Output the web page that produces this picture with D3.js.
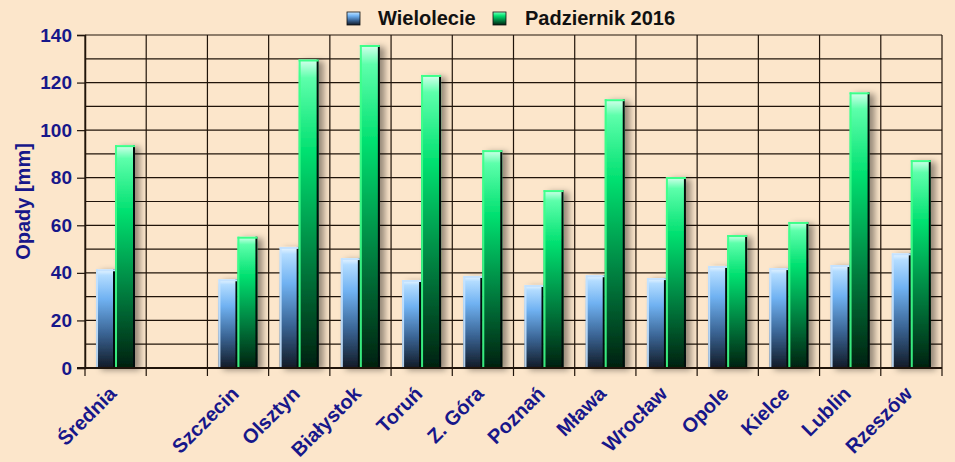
<!DOCTYPE html>
<html><head><meta charset="utf-8">
<script src="https://cdn.jsdelivr.net/npm/d3@7"></script>
<style>body{margin:0;background:#fce6cb;}svg{display:block;font-family:"Liberation Sans",Arial,sans-serif;}</style>
</head><body>
<svg id="c" width="955" height="462"></svg>
<script>
const categories = ["Średnia","","Szczecin","Olsztyn","Białystok","Toruń","Z. Góra","Poznań","Mława","Wrocław","Opole","Kielce","Lublin","Rzeszów"];
const wielolecie = [41.5,null,37.3,50.9,46.2,37.0,38.7,34.9,39.0,37.8,42.9,42.0,43.3,48.2];
const pazdziernik = [93.7,null,55.2,129.7,135.8,123.2,91.6,74.8,113.0,80.3,55.9,61.4,115.9,87.4];
const seriesNames = ["Wielolecie","Padziernik 2016"];
const yTicks = [0,20,40,60,80,100,120,140];

const svg = d3.select("#c");
const W=955,H=462, m={l:85,r:13,t:35,b:94};
const x = d3.scaleBand().domain(d3.range(categories.length)).range([m.l, W-m.r]);
const y = d3.scaleLinear().domain([0,140]).range([H-m.b, m.t]);
const navy="#17178a";

svg.append("rect").attr("width",W).attr("height",H).attr("fill","#fce6cb");
const defs = svg.append("defs");
function grad(id, stops){
  const g=defs.append("linearGradient").attr("id",id).attr("x1",0).attr("y1",0).attr("x2",0).attr("y2",1);
  stops.forEach(s=>g.append("stop").attr("offset",s[0]).attr("stop-color",s[1]));
}
grad("gb",[[0,"#eef8ff"],[0.06,"#b3dcff"],[0.3,"#70b2f2"],[0.65,"#3a6494"],[1,"#121a26"]]);
grad("gg",[[0,"#d8ffee"],[0.06,"#5dffab"],[0.3,"#00e070"],[0.65,"#008040"],[1,"#00200f"]]);
const f=defs.append("filter").attr("id","sh").attr("x","-20%").attr("y","-10%").attr("width","160%").attr("height","130%");
f.append("feDropShadow").attr("dx",5).attr("dy",2).attr("stdDeviation",3).attr("flood-color","#000").attr("flood-opacity",0.4);

// grid
const grid=svg.append("g");
d3.range(0,141,10).forEach(v=>{
  grid.append("line").attr("x1",m.l).attr("x2",W-m.r).attr("y1",y(v)).attr("y2",y(v))
    .attr("stroke","#20140a").attr("stroke-width",1.2);
});
d3.range(categories.length+1).forEach(i=>{
  const xx = i<categories.length ? x(i) : x.range()[1];
  grid.append("line").attr("x1",xx).attr("x2",xx).attr("y1",y(140)).attr("y2",y(0)+8)
    .attr("stroke","#20140a").attr("stroke-width",1.2);
});

// y axis
const ya = svg.append("g").attr("transform",`translate(${m.l},0)`)
  .call(d3.axisLeft(y).tickValues(yTicks).tickSize(8).tickPadding(5));
ya.select(".domain").attr("stroke","#20140a").attr("stroke-width",1.5);
ya.selectAll(".tick line").attr("stroke","#20140a").attr("stroke-width",1.2);
ya.selectAll(".tick text").attr("fill",navy).attr("font-size",19).attr("font-weight","bold").attr("font-family","Liberation Sans, Arial, sans-serif");

// bars
const bars = svg.append("g");
categories.forEach((c,i)=>{
  const cx = x(i)+x.bandwidth()/2;
  const g = bars.append("g").attr("filter","url(#sh)");
  [[wielolecie[i],"gb",cx-19.6,19,"#c4e2ff"],[pazdziernik[i],"gg",cx-0.6,20,"#3dff8a"]].forEach(([v,gid,bx,bw,edge])=>{
    if(v==null) return;
    const top=y(v), h=y(0)-top;
    g.append("rect").attr("x",bx).attr("y",top).attr("width",bw).attr("height",h).attr("fill",`url(#${gid})`);
    g.append("rect").attr("x",bx).attr("y",top).attr("width",2).attr("height",h).attr("fill",edge).attr("opacity",0.9);
    g.append("rect").attr("x",bx+bw-2).attr("y",top).attr("width",2).attr("height",h).attr("fill","#061008");
    g.append("rect").attr("x",bx).attr("y",top).attr("width",bw).attr("height",2).attr("fill",edge);
  });
});

// bottom axis line
svg.append("line").attr("x1",m.l-8).attr("x2",W-m.r).attr("y1",y(0)).attr("y2",y(0)).attr("stroke","#20140a").attr("stroke-width",2);

// x labels
const xa = svg.append("g");
categories.forEach((c,i)=>{
  const cx = x(i)+x.bandwidth()/2+2;
  xa.append("text").attr("transform",`translate(${cx},${y(0)+27}) rotate(-45)`)
    .attr("text-anchor","end").attr("fill",navy).attr("font-size",20).attr("font-weight","bold").text(c);
});

// y title
svg.append("text").attr("transform",`translate(30,${(y(0)+y(140))/2}) rotate(-90)`).attr("text-anchor","middle")
  .attr("fill",navy).attr("font-size",20).attr("font-weight","bold").text("Opady [mm]");

// legend
const lg = svg.append("g");
const items=[{n:seriesNames[0],g:"gb",x:347,tx:378},{n:seriesNames[1],g:"gg",x:493,tx:525}];
items.forEach(it=>{
  lg.append("rect").attr("x",it.x).attr("y",12).attr("width",13).attr("height",13).attr("fill",`url(#${it.g})`).attr("stroke","#111").attr("stroke-width",0.8);
  lg.append("text").attr("x",it.tx).attr("y",25).attr("font-size",20).attr("font-weight","bold").attr("fill","#111").text(it.n);
});
</script>
</body></html>
